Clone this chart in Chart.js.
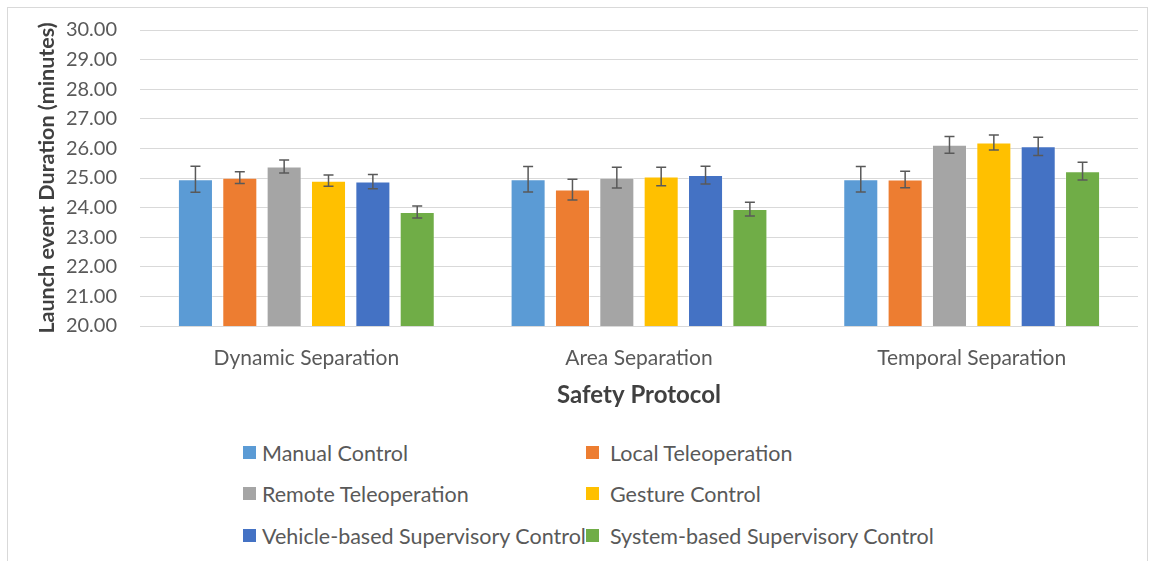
<!DOCTYPE html>
<html>
<head>
<meta charset="utf-8">
<script src="https://cdn.jsdelivr.net/npm/chart.js@4.4.0/dist/chart.umd.min.js"></script>
<style>
  body { margin: 0; background: #fff; font-family: Lato, "Liberation Sans", sans-serif; }
  #frame { position: absolute; left: 7px; top: 7px; width: 1141px; height: 560px; border: 1px solid #d9d9d9; box-sizing: border-box; }
  #wrap { position: absolute; left: 0; top: 0; width: 1140px; height: 418px; }
  .box { position: absolute; width: 13px; height: 13px; }
  .txt { position: absolute; font-size: 21.5px; color: #595959; white-space: nowrap; line-height: 26px; }
</style>
</head>
<body>
<div id="frame">
  <div id="wrap"><canvas id="chart"></canvas></div>
  <div id="legend"></div>
</div>
<script>
const categories = ['Dynamic Separation', 'Area Separation', 'Temporal Separation'];
const seriesNames = ['Manual Control', 'Local Teleoperation', 'Remote Teleoperation', 'Gesture Control',
                     'Vehicle-based Supervisory Control', 'System-based Supervisory Control'];
const colors = ['#5b9bd5', '#ed7d31', '#a5a5a5', '#ffc000', '#4472c4', '#70ad47'];

// means per series (Dynamic, Area, Temporal)
const manualControl = [24.96, 24.96, 24.96];
const localTeleop = [25.01, 24.61, 24.95];
const remoteTeleop = [25.39, 25.01, 26.12];
const gestureControl = [24.91, 25.05, 26.20];
const vehicleSupervisory = [24.88, 25.10, 26.07];
const systemSupervisory = [23.85, 23.95, 25.23];

// error (± minutes)
const manualErr = [0.44, 0.43, 0.43];
const localErr = [0.2, 0.35, 0.28];
const remoteErr = [0.22, 0.35, 0.28];
const gestureErr = [0.19, 0.31, 0.25];
const vehicleErr = [0.24, 0.3, 0.31];
const systemErr = [0.2, 0.23, 0.3];

const yTicks = [20, 21, 22, 23, 24, 25, 26, 27, 28, 29, 30];

const values = [manualControl, localTeleop, remoteTeleop, gestureControl, vehicleSupervisory, systemSupervisory];
const errors = [manualErr, localErr, remoteErr, gestureErr, vehicleErr, systemErr];

const errorBars = {
  id: 'errorBars',
  afterDatasetsDraw(chart) {
    const ctx = chart.ctx;
    const y = chart.scales.y;
    ctx.save();
    ctx.strokeStyle = '#595959';
    ctx.lineWidth = 1.5;
    chart.data.datasets.forEach((ds, i) => {
      const meta = chart.getDatasetMeta(i);
      meta.data.forEach((bar, j) => {
        const top = y.getPixelForValue(ds.data[j] + ds.errors[j]);
        const bot = y.getPixelForValue(ds.data[j] - ds.errors[j]);
        ctx.beginPath();
        ctx.moveTo(bar.x, top); ctx.lineTo(bar.x, bot);
        ctx.moveTo(bar.x - 5, top); ctx.lineTo(bar.x + 5, top);
        ctx.moveTo(bar.x - 5, bot); ctx.lineTo(bar.x + 5, bot);
        ctx.stroke();
      });
    });
    ctx.restore();
  }
};

new Chart(document.getElementById('chart'), {
  type: 'bar',
  data: {
    labels: categories,
    datasets: seriesNames.map((name, i) => ({
      label: name,
      data: values[i],
      errors: errors[i],
      backgroundColor: colors[i],
      borderColor: 'rgba(255,255,255,0.35)',
      borderWidth: 1,
      categoryPercentage: 0.8,
      barPercentage: 0.79
    }))
  },
  options: {
    responsive: true,
    maintainAspectRatio: false,
    animation: false,
    layout: { padding: { top: 22, right: 10, left: 0, bottom: 12 } },
    plugins: {
      legend: { display: false },
      tooltip: { enabled: false }
    },
    scales: {
      x: {
        afterFit: axis => { axis.height = 88; },
        grid: { display: false },
        border: { display: false },
        ticks: { color: '#595959', font: { family: 'Lato', size: 21 }, padding: 12 },
        title: { display: true, text: 'Safety Protocol', color: '#404040',
                 font: { family: 'Lato', size: 24, weight: 'bold' }, padding: { top: 10, bottom: 4 } }
      },
      y: {
        min: 20,
        max: 30,
        afterFit: axis => { axis.width = 132; },
        afterBuildTicks: axis => { axis.ticks = yTicks.map(v => ({ value: v })); },
        // invisible tick marks give the gap between labels and plot
        grid: { color: '#d9d9d9', drawTicks: true, tickLength: 23, tickColor: 'rgba(0,0,0,0)' },
        border: { display: false },
        ticks: { color: '#595959', font: { family: 'Lato', size: 20 }, padding: 0,
                 callback: v => Number(v).toFixed(2) },
        title: { display: true, text: 'Launch event Duration (minutes)', color: '#404040',
                 font: { family: 'Lato', size: 21.5, weight: 'bold' }, padding: { top: 26, bottom: 0 } }
      }
    }
  },
  plugins: [errorBars]
});

// legend in two columns, like the original
const legend = document.getElementById('legend');
const boxX = [235, 578];
const textX = [254, 602];
const rowY = [445, 486, 528];
seriesNames.forEach((name, i) => {
  const c = i % 2, r = Math.floor(i / 2);
  const b = document.createElement('div');
  b.className = 'box';
  b.style.left = boxX[c] + 'px';
  b.style.top = (rowY[r] - 7) + 'px';
  b.style.background = colors[i];
  legend.appendChild(b);
  const t = document.createElement('div');
  t.className = 'txt';
  t.style.left = textX[c] + 'px';
  t.style.top = (rowY[r] - 13) + 'px';
  t.textContent = name;
  legend.appendChild(t);
});
</script>
</body>
</html>
